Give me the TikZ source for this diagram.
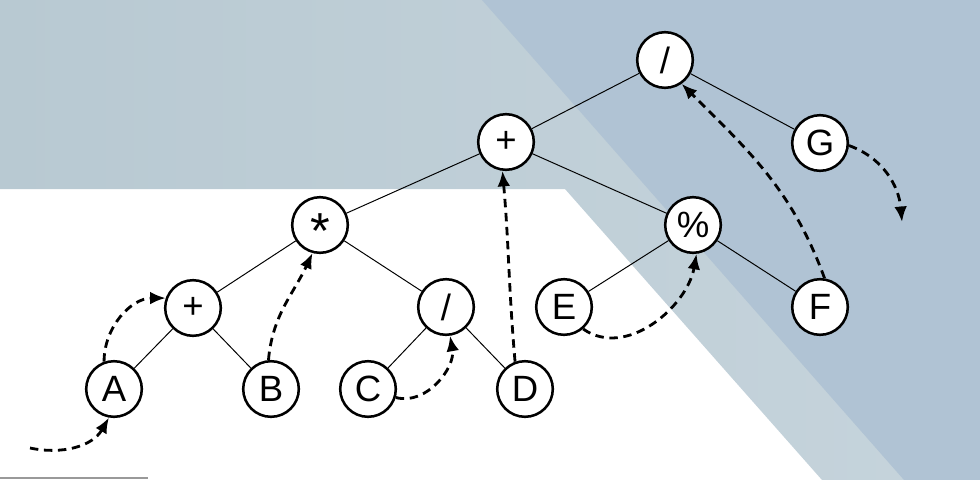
\documentclass[tikz,border=0pt]{standalone}
\usepackage{fontspec}
\setmainfont{Liberation Sans}
\usetikzlibrary{arrows.meta}
\definecolor{mistleft}{HTML}{B8C9D2}
\definecolor{mistright}{HTML}{C6D4DC}
\definecolor{slate}{HTML}{B0C3D4}

\begin{document}
\begin{tikzpicture}[x=0.025cm,y=-0.025cm,
  vertex/.style={circle,draw,line width=1.8pt,fill=white,minimum size=1.39cm,
    inner sep=0pt,font=\fontsize{26}{30}\selectfont},
  branch/.style={line width=0.7pt},
  walk/.style={-{Latex[length=11pt,width=9pt]},line width=2pt,
    dash pattern=on 6pt off 4pt}]
  \useasboundingbox (0,0) rectangle (980,480);
  % background
  \shade[left color=mistleft,right color=mistright]
    (0,0) -- (980,0) -- (980,480) -- (822,480) -- (565,189) -- (0,189) -- cycle;
  \fill[slate] (482,0) -- (980,0) -- (980,480) -- (904,480) -- cycle;
  \draw[black!40,line width=1.6pt] (0,478) -- (148,478);

  % tree
  \node[vertex] (root) at (665,60) {/};
  \node[vertex] (plus) at (506,142) {+};
  \node[vertex] (g) at (820,143) {G};
  \node[vertex] (star) at (320,225)
    {\raisebox{-17pt}[0pt][0pt]{\fontsize{36}{36}\selectfont *}};
  \node[vertex] (mod) at (693,225) {\%};
  \node[vertex] (plusl) at (193,308) {+};
  \node[vertex] (divl) at (446,307) {/};
  \node[vertex] (e) at (564,307) {E};
  \node[vertex] (f) at (820,307) {F};
  \node[vertex] (a) at (114,389) {A};
  \node[vertex] (b) at (271,389) {B};
  \node[vertex] (c) at (368,389) {C};
  \node[vertex] (d) at (525,389) {D};

  \draw[branch] (root) -- (plus);
  \draw[branch] (root) -- (g);
  \draw[branch] (plus) -- (star);
  \draw[branch] (plus) -- (mod);
  \draw[branch] (star) -- (plusl);
  \draw[branch] (star) -- (divl);
  \draw[branch] (mod) -- (e);
  \draw[branch] (mod) -- (f);
  \draw[branch] (plusl) -- (a);
  \draw[branch] (plusl) -- (b);
  \draw[branch] (divl) -- (c);
  \draw[branch] (divl) -- (d);

  % traversal
  \coordinate (begin) at (30,448);
  \coordinate (end) at (902,222);
  \draw[walk] (begin) to[out=-12,in=-120] (a.-100);
  \draw[walk] (a.110) to[out=90,in=180] (plusl.160);
  \draw[walk] (b.95) to[out=85,in=-115] (star.-105);
  \draw[walk] (c.-17) to[out=-15,in=-80] (divl.-82);
  \draw[walk] (d.110) to[out=95,in=-85] (plus.-97);
  \draw[walk] (e.-49) to[out=-35,in=-100] (mod.-83);
  \draw[walk] (f.81) to[out=110,in=-45] (root.-55);
  \draw[walk] (g.-5) to[out=-20,in=95] (end);
\end{tikzpicture}
\end{document}
